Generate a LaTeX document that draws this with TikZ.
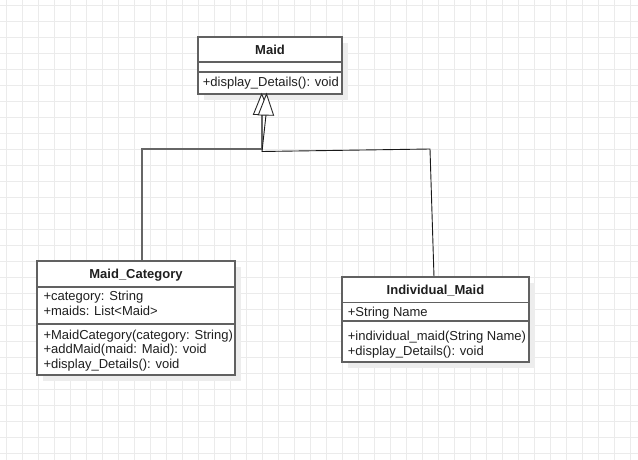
\documentclass[tikz,border=0pt]{standalone}
\usepackage{fontspec}
\setmainfont{Liberation Sans}
\begin{document}
\begin{tikzpicture}[x=1pt,y=-1pt,
  gridline/.style={draw=black!8,line width=0.8pt},
  shadowbox/.style={fill=black!7,draw=none},
  umlbox/.style={draw=black!62,line width=1.3pt,fill=white,rectangle,inner sep=0pt,outer sep=0pt,anchor=north west},
  sepline/.style={draw=black!62,line width=1.3pt},
  hdr/.style={font=\fontsize{13}{14.4}\selectfont\bfseries,inner sep=0pt,anchor=base,text=black!88},
  mem/.style={font=\fontsize{13}{14.4}\selectfont,inner sep=0pt,anchor=base west,text=black!88},
  conn/.style={draw=black!60,line width=1.2pt},
  connb/.style={draw=black!90,line width=0.9pt},
  tri/.style={draw=black!85,line width=0.9pt,fill=white,line join=miter}
]
\useasboundingbox (0,0) rectangle (638,460);
\fill[white] (0,0) rectangle (638,460);
% grid
\foreach \k in {0,...,39} { \draw[gridline] ({6+16*\k},0) -- ({6+16*\k},460); }
\foreach \k in {0,...,28} { \draw[gridline] (0,{5+16*\k}) -- (638,{5+16*\k}); }
% shadows
\fill[shadowbox] (204,43) rectangle (348,100);
\fill[shadowbox] (43,267) rectangle (241,381);
\fill[shadowbox] (348,283) rectangle (535,368);

% connectors
\coordinate (c1) at (142,261);
\coordinate (b1) at (142,149);
\coordinate (b2) at (262,149);
\coordinate (t1) at (262,114.5);
\coordinate (c2) at (434,277);
\coordinate (b3) at (430,149);
\coordinate (b4) at (262,151.5);
\coordinate (t2) at (266,115);
\draw[conn] (c1) -- (b1) -- (b2) -- (t1);
\draw[connb] (c2) -- (b3) -- (b4) -- (t2);

% Maid
\node[umlbox,minimum width=144pt,minimum height=57pt] (maid) at (198,37) {};
\draw[sepline] (maid.west |- 0,62) -- (maid.east |- 0,62);
\draw[sepline] (maid.west |- 0,72) -- (maid.east |- 0,72);
\node[hdr] (maidh) at (270,54.3) {Maid};
\node[mem] (maidm1) at (202.7,86.8) {+display\_Details(): void};

% inheritance triangles
\draw[tri] (261.7,94) -- (253.4,114.5) -- (270,114.5) -- cycle;
\draw[tri] (266.5,94) -- (258.3,115) -- (273.6,115.3) -- cycle;

% Maid_Category
\node[umlbox,minimum width=198pt,minimum height=114pt] (cat) at (37,261) {};
\draw[sepline] (cat.west |- 0,287) -- (cat.east |- 0,287);
\draw[sepline] (cat.west |- 0,324) -- (cat.east |- 0,324);
\node[hdr] (cath) at (136,278.3) {Maid\_Category};
\node[mem] (cata1) at (43.3,300.8) {+category: String};
\node[mem] (cata2) at (43.3,315.2) {+maids: List<Maid>};
\node[mem] (catm1) at (43.3,339.2) {+MaidCategory(category: String)};
\node[mem] (catm2) at (43.3,353.6) {+addMaid(maid: Maid): void};
\node[mem] (catm3) at (43.3,368) {+display\_Details(): void};

% Individual_Maid
\node[umlbox,minimum width=187pt,minimum height=85pt] (ind) at (342,277) {};
\draw[sepline] (ind.west |- 0,302.3) -- (ind.east |- 0,302.3);
\draw[sepline] (ind.west |- 0,321) -- (ind.east |- 0,321);
\node[hdr] (indh) at (435.5,294.3) {Individual\_Maid};
\node[mem] (inda1) at (347.7,316.7) {+String Name};
\node[mem] (indm1) at (347.7,340.7) {+individual\_maid(String Name)};
\node[mem] (indm2) at (347.7,355) {+display\_Details(): void};
\end{tikzpicture}
\end{document}
